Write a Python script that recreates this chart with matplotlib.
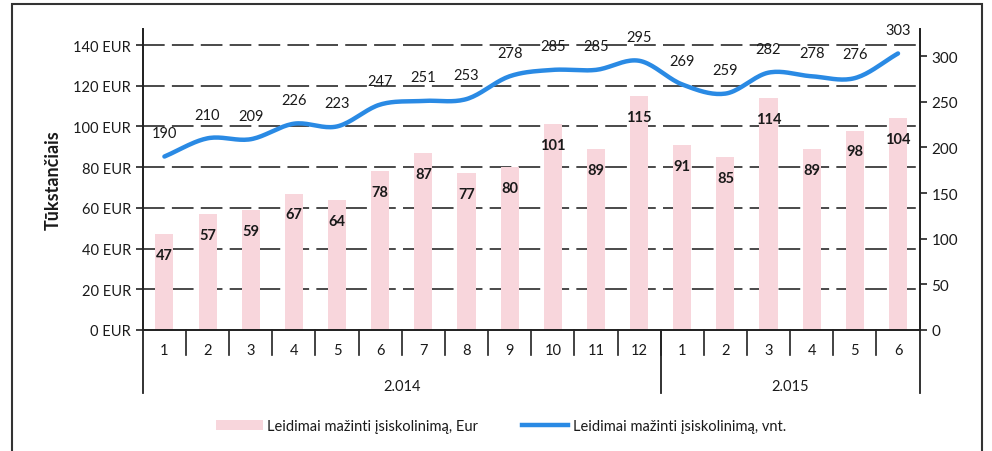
import numpy as np
import matplotlib
matplotlib.use("Agg")
import matplotlib.pyplot as plt
from matplotlib.lines import Line2D
from matplotlib.patches import Patch, Rectangle
import matplotlib.transforms as mtransforms

plt.rcParams['font.family'] = ['Lato', 'DejaVu Sans']

months = ['1', '2', '3', '4', '5', '6', '7', '8', '9', '10', '11', '12',
          '1', '2', '3', '4', '5', '6']
years = ['2.014', '2.015']
year_counts = [12, 6]
eur_values = [47, 57, 59, 67, 64, 78, 87, 77, 80, 101, 89, 115, 91, 85, 114, 89, 98, 104]
unit_values = [190, 210, 209, 226, 223, 247, 251, 253, 278, 285, 285, 295, 269, 259, 282, 278, 276, 303]
left_ticks = [0, 20, 40, 60, 80, 100, 120, 140]
right_ticks = [0, 50, 100, 150, 200, 250, 300]
legend_labels = ['Leidimai mažinti įsiskolinimą, Eur', 'Leidimai mažinti įsiskolinimą, vnt.']
ylabel = 'Tūkstančiais'

bar_color = '#f8d6dc'
line_color = '#2a8ae4'
text_color = '#1a1a1a'

fig = plt.figure(figsize=(9.92, 4.52), dpi=100)
ax = fig.add_axes([0.144, 0.268, 0.783, 0.666])
ax2 = ax.twinx()

x = np.arange(len(months))
ax.bar(x, eur_values, width=0.42, color=bar_color, zorder=2)
ax.set_xlim(-0.5, len(months) - 0.5)
ax.set_ylim(0, 148)
ax.set_yticks(left_ticks)
ax.set_yticklabels([f'{v} EUR' for v in left_ticks], fontsize=10.5, color=text_color)
for v in left_ticks[1:]:
    ax.axhline(v, color='#3a3a3a', lw=1.3, ls=(0, (12, 4)), zorder=1)

for xi, v in zip(x, eur_values):
    ax.annotate(str(v), (xi, v), xytext=(0, -15), textcoords='offset points',
                ha='center', va='center', fontsize=10.5, fontweight='bold', color=text_color, zorder=5)

# smoothed line (Catmull-Rom through the data points)
def catmull(xs, ys, n=20):
    xs = np.asarray(xs, float); ys = np.asarray(ys, float)
    px = np.concatenate([[2 * xs[0] - xs[1]], xs, [2 * xs[-1] - xs[-2]]])
    py = np.concatenate([[2 * ys[0] - ys[1]], ys, [2 * ys[-1] - ys[-2]]])
    ox, oy = [], []
    for i in range(1, len(px) - 2):
        t = np.linspace(0, 1, n, endpoint=False)
        for arr, out in ((px, ox), (py, oy)):
            p0, p1, p2, p3 = arr[i - 1], arr[i], arr[i + 1], arr[i + 2]
            out.extend(0.5 * ((2 * p1) + (-p0 + p2) * t + (2 * p0 - 5 * p1 + 4 * p2 - p3) * t ** 2
                              + (-p0 + 3 * p1 - 3 * p2 + p3) * t ** 3))
    ox.append(xs[-1]); oy.append(ys[-1])
    return np.array(ox), np.array(oy)

sx, sy = catmull(x, unit_values)
ax2.plot(sx, sy, color=line_color, lw=3.2, solid_capstyle='round', zorder=4)
ax2.set_ylim(0, 330)
ax2.set_yticks(right_ticks)
ax2.set_yticklabels([str(v) for v in right_ticks], fontsize=11, color=text_color)
for xi, v in zip(x, unit_values):
    ax2.annotate(str(v), (xi, v), xytext=(0, 17), textcoords='offset points',
                 ha='center', va='center', fontsize=10.5, color=text_color, zorder=5)

for a in (ax, ax2):
    a.spines['top'].set_visible(False)
    for s in ('left', 'right', 'bottom'):
        a.spines[s].set_color('#222222')
        a.spines[s].set_linewidth(1.3)
    a.tick_params(axis='y', length=5, width=1.2, color='#222222')
ax.set_zorder(ax2.get_zorder() - 1)
ax.patch.set_visible(True)
ax2.patch.set_visible(False)

# category axis
ax.set_xticks([])
trans = mtransforms.blended_transform_factory(ax.transData, ax.transAxes)
for xi, m in zip(x, months):
    ax.text(xi, -0.068, m, transform=trans, ha='center', va='center', fontsize=10.5, color=text_color)
for b in range(1, len(months)):
    ax.add_line(Line2D([b - 0.5, b - 0.5], [0, -0.085], transform=trans, color='#222222', lw=1.2, clip_on=False))
start = 0
bounds = [-0.5]
for yl, c in zip(years, year_counts):
    ax.text(start + (c - 1) / 2, -0.185, yl, transform=trans, ha='center', va='center', fontsize=10.5, color=text_color)
    start += c
    bounds.append(start - 0.5)
for b in bounds:
    ax.add_line(Line2D([b, b], [0, -0.21], transform=trans, color='#222222', lw=1.3, clip_on=False))

ax.set_ylabel(ylabel, fontsize=13, fontweight='bold', color=text_color, labelpad=8)

handles = [Patch(facecolor=bar_color, edgecolor='none'),
           Line2D([0], [0], color=line_color, lw=3.2)]
fig.legend(handles, legend_labels, loc='center', bbox_to_anchor=(0.505, 0.055), ncol=2,
           frameon=False, fontsize=10.5, handlelength=3.2, columnspacing=3.0, handletextpad=0.3,
           labelcolor=text_color)

# scanned frame
fig.add_artist(Rectangle((0.012, -0.05), 0.978, 1.039, transform=fig.transFigure,
                         fill=False, edgecolor='#333333', lw=1.5))

fig.savefig('out.png', dpi=100)
